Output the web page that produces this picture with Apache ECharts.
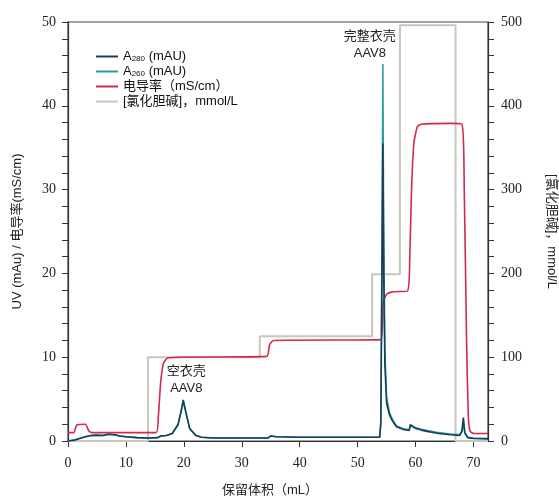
<!DOCTYPE html>
<html>
<head>
<meta charset="utf-8">
<script src="https://cdn.jsdelivr.net/npm/echarts@6/dist/echarts.min.js"></script>
<style>
  html, body { margin: 0; padding: 0; background: #fff; }
  #main { width: 559px; height: 496px; }
</style>
</head>
<body>
<div id="main"></div>
<script>
// 保留体积 (mL) for the UV traces
var uvVolume = [0, 1, 2, 3, 4, 5, 6, 7, 8, 9, 10, 12, 14, 15.5, 16, 17, 18, 19, 19.5, 19.9, 20.3, 21, 22, 23, 25, 30, 34.5, 35, 36, 40, 45, 50, 53.8,
  54.0, 54.2, 54.35, 54.5, 54.7, 55, 55.5, 56, 56.7, 58, 58.9, 59.1, 59.5, 60, 61, 62, 64, 66, 67.6, 68.0, 68.25, 68.5, 69, 70, 72.5];
var a280 = [0, 0.1, 0.3, 0.5, 0.65, 0.7, 0.65, 0.8, 0.75, 0.6, 0.5, 0.4, 0.35, 0.4, 0.6, 0.65, 0.9, 2.0, 3.5, 4.9, 3.6, 1.5, 0.7, 0.45, 0.35, 0.35, 0.35, 0.6, 0.5, 0.45, 0.45, 0.45, 0.45,
  2, 20, 35.5, 20, 9, 4.5, 3.1, 2.4, 1.7, 1.35, 1.25, 1.9, 1.7, 1.5, 1.3, 1.15, 0.9, 0.75, 0.65, 1.2, 2.8, 1.0, 0.4, 0.3, 0.25];
var a260 = [0, 0.1, 0.3, 0.5, 0.65, 0.7, 0.65, 0.8, 0.75, 0.6, 0.5, 0.4, 0.35, 0.4, 0.6, 0.65, 0.9, 1.9, 3.4, 4.7, 3.5, 1.5, 0.7, 0.45, 0.35, 0.35, 0.35, 0.6, 0.5, 0.45, 0.45, 0.45, 0.45,
  2.5, 25, 45, 26, 11, 5.2, 3.4, 2.6, 1.8, 1.45, 1.35, 2.0, 1.8, 1.6, 1.4, 1.25, 1.0, 0.85, 0.75, 1.1, 2.2, 0.9, 0.45, 0.35, 0.3];

// 电导率 (mS/cm)
var condVolume = [0, 1.0, 1.5, 3.0, 3.6, 4.2, 15.2, 15.6, 16.0, 16.5, 17.2, 20, 34.3, 34.8, 35.5, 54.0, 54.4, 55, 56, 58.6, 59.0, 59.3, 59.7, 60.3, 61, 66, 68.0, 68.4, 68.8, 69.1, 69.4, 70, 72.5];
var conductivity = [1.0, 1.0, 1.9, 2.0, 1.2, 1.0, 1.0, 3, 7, 9.3, 9.9, 10, 10.1, 11.5, 12, 12.1, 16.5, 17.5, 17.8, 17.9, 22, 30, 35.5, 37.5, 37.8, 37.9, 37.8, 30, 12, 3, 1.2, 0.9, 0.9];

// [氯化胆碱] mmol/L step gradient
var saltVolume = [0, 13.8, 13.8, 33.1, 33.1, 52.5, 52.5, 57.3, 57.3, 66.9, 66.9, 72.5];
var saltConc = [0, 0, 100, 100, 125, 125, 199, 199, 496, 496, 0, 0];

function pairs(xs, ys) {
  return xs.map(function (x, i) { return [x, ys[i]]; });
}

var sans = 'Liberation Sans, Arial, Noto Sans CJK SC';
var serif = 'Liberation Serif, Times New Roman, serif';

var myChart = echarts.init(document.getElementById('main'));
var option = {
  backgroundColor: '#fff',
  animation: false,
  grid: {
    left: 68, right: 71, top: 22, bottom: 55,
    outerBoundsMode: 'none', containLabel: false,
    show: true, borderColor: '#444', borderWidth: 1.2
  },
  legend: {
    orient: 'vertical',
    left: 91,
    top: 45,
    icon: 'rect',
    itemGap: 2,
    itemWidth: 22,
    itemHeight: 2,
    textStyle: {
      fontFamily: sans, fontSize: 13, color: '#111',
      rich: {
        t: { fontFamily: sans, fontSize: 13, color: '#111' },
        s: { fontFamily: sans, fontSize: 8, color: '#111', verticalAlign: 'bottom', padding: [5, 0, 0, 0] }
      }
    },
    formatter: function (name) {
      if (name === 'A280') return '{t|A}{s|280}{t| (mAU)}';
      if (name === 'A260') return '{t|A}{s|260}{t| (mAU)}';
      return name;
    },
    data: ['A280', 'A260', '电导率（mS/cm）', '[氯化胆碱]，mmol/L']
  },
  xAxis: {
    type: 'value',
    min: 0, max: 72.5, interval: 10,
    name: '保留体积（mL）',
    nameLocation: 'middle',
    nameGap: 43,
    nameTextStyle: { fontFamily: sans, fontSize: 13, color: '#222', padding: [0, 16, 0, 0] },
    axisLine: { lineStyle: { color: '#333', width: 1.2 } },
    axisTick: { length: 6, lineStyle: { color: '#333' } },
    axisLabel: { fontFamily: serif, fontSize: 14, color: '#222', margin: 15, showMaxLabel: false },
    splitLine: { show: false }
  },
  yAxis: [
    {
      type: 'value',
      min: 0, max: 50, interval: 10,
      name: 'UV (mAu) / 电导率(mS/cm)',
      nameLocation: 'middle',
      nameGap: 44,
      nameTextStyle: { fontFamily: sans, fontSize: 13, color: '#222' },
      axisLine: { show: true, lineStyle: { color: '#333', width: 1.2 } },
      axisTick: { show: true, length: 6, lineStyle: { color: '#333' } },
      minorTick: { show: true, splitNumber: 5, length: 6, lineStyle: { color: '#333' } },
      axisLabel: { fontFamily: serif, fontSize: 14, color: '#222', margin: 12 },
      splitLine: { show: false }
    },
    {
      type: 'value',
      min: 0, max: 500, interval: 100,
      position: 'right',
      name: '[氯化胆碱]，mmol/L',
      nameLocation: 'middle',
      nameGap: 57,
      nameRotate: -90,
      nameTextStyle: { fontFamily: sans, fontSize: 13, color: '#222' },
      axisLine: { show: true, lineStyle: { color: '#333', width: 1.2 } },
      axisTick: { show: true, length: 6, lineStyle: { color: '#333' } },
      minorTick: { show: true, splitNumber: 5, length: 6, lineStyle: { color: '#333' } },
      axisLabel: { fontFamily: serif, fontSize: 14, color: '#222', margin: 13 },
      splitLine: { show: false }
    }
  ],
  series: [
    {
      name: '[氯化胆碱]，mmol/L',
      type: 'line',
      yAxisIndex: 1,
      data: pairs(saltVolume, saltConc),
      symbol: 'none',
      color: '#c9c6bc',
      lineStyle: { color: '#c9c6bc', width: 2 },
      z: 1
    },
    {
      name: '电导率（mS/cm）',
      type: 'line',
      data: pairs(condVolume, conductivity),
      symbol: 'none',
      smooth: 0.2,
      color: '#d22a4c',
      lineStyle: { color: '#d22a4c', width: 1.6 },
      z: 2
    },
    {
      name: 'A260',
      type: 'line',
      data: pairs(uvVolume, a260),
      symbol: 'none',
      color: '#2a9a9c',
      lineStyle: { color: '#2a9a9c', width: 1.5 },
      z: 3,
      markPoint: {
        symbol: 'circle',
        symbolSize: 0,
        label: {
          show: true,
          position: 'top',
          offset: [-13, 3],
          lineHeight: 17,
          fontFamily: sans, fontSize: 13, color: '#222',
          formatter: '完整衣壳\nAAV8'
        },
        data: [{ coord: [54.35, 45] }]
      }
    },
    {
      name: 'A280',
      type: 'line',
      data: pairs(uvVolume, a280),
      symbol: 'none',
      color: '#173e5c',
      lineStyle: { color: '#173e5c', width: 1.6 },
      z: 4,
      markPoint: {
        symbol: 'circle',
        symbolSize: 0,
        label: {
          show: true,
          position: 'top',
          offset: [3, 2],
          lineHeight: 17,
          fontFamily: sans, fontSize: 13, color: '#222',
          formatter: '空衣壳\nAAV8'
        },
        data: [{ coord: [19.9, 4.9] }]
      }
    }
  ]
};
myChart.setOption(option);
</script>
</body>
</html>
